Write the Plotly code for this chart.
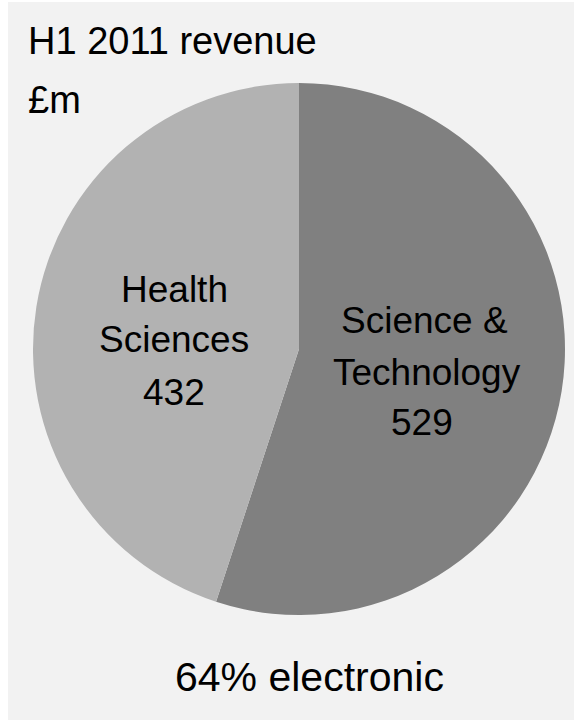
import plotly.graph_objects as go

labels = ["Science &<br>Technology", "Health<br>Sciences"]
values = [529, 432]
colors = ["#808080", "#b2b2b2"]
title_lines = ["H1 2011 revenue", "£m"]
footer = "64% electronic"

W, H = 576, 722
FONT = "Liberation Sans, Arial, sans-serif"

cx, cy, r = 299, 349, 266

fig = go.Figure(go.Pie(
    labels=labels, values=values, sort=False, direction="clockwise", rotation=0,
    marker=dict(colors=colors, line=dict(width=0)),
    textinfo="none", hoverinfo="label+value", showlegend=False,
    domain=dict(x=[(cx - r) / W, (cx + r) / W], y=[(H - cy - r) / H, (H - cy + r) / H]),
))

def px(x, y):
    return x / W, 1 - y / H

annos = []
# slice labels: one annotation per line
label_pos = [
    [(424, 320), (427, 372), (422, 422)],
    [(174, 290), (174, 339), (174, 392)],
]
for lines_pos, lab, v in zip(label_pos, labels, values):
    lines = lab.split("<br>") + [str(v)]
    for (x, y), t in zip(lines_pos, lines):
        ax, ay = px(x, y)
        annos.append(dict(x=ax, y=ay, xref="paper", yref="paper", text=t,
                          showarrow=False, font=dict(family=FONT, size=37, color="#000"),
                          xanchor="center", yanchor="middle"))
for (x, y), t in zip([(26, 41), (26, 100)], title_lines):
    ax, ay = px(x, y)
    annos.append(dict(x=ax, y=ay, xref="paper", yref="paper", text=t,
                      showarrow=False, align="left", font=dict(family=FONT, size=38, color="#000"),
                      xanchor="left", yanchor="middle"))
ax, ay = px(309, 677)
annos.append(dict(x=ax, y=ay, xref="paper", yref="paper", text=footer,
                  showarrow=False, font=dict(family=FONT, size=41, color="#000"),
                  xanchor="center", yanchor="middle"))

fig.update_layout(
    width=W, height=H, margin=dict(l=0, r=0, t=0, b=0),
    paper_bgcolor="#ffffff", plot_bgcolor="#ffffff",
    annotations=annos,
    shapes=[dict(type="rect", xref="paper", yref="paper", x0=8 / W, x1=574 / W,
                 y0=1 - 720 / H, y1=1 - 2 / H, fillcolor="#f2f2f2", line=dict(width=0), layer="below")],
)
fig.write_html("out.html")
